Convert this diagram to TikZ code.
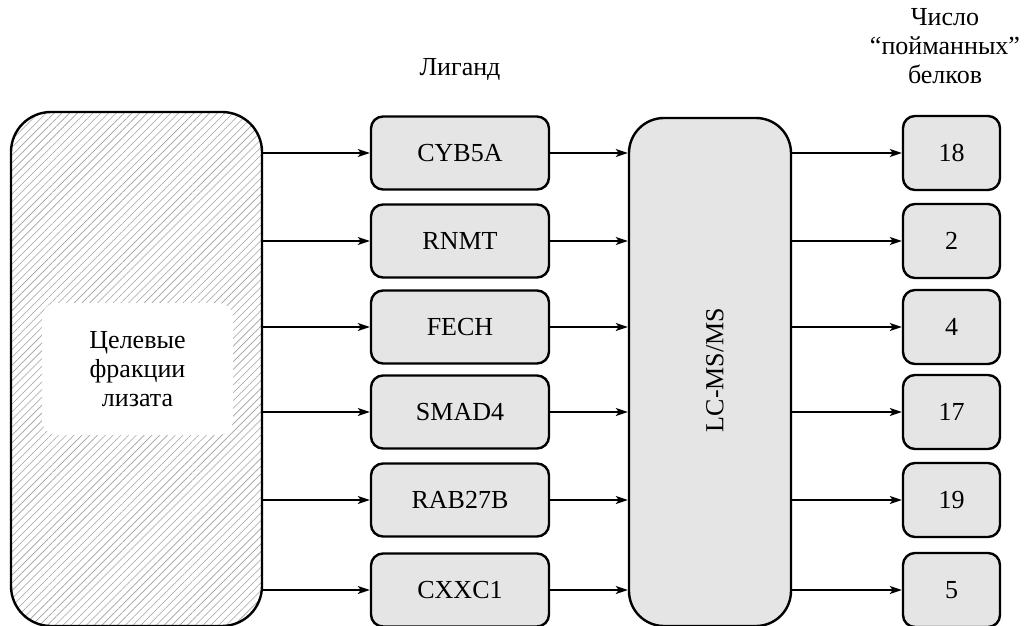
\documentclass[tikz,border=0pt]{standalone}
\usepackage{fontspec}
\setmainfont{Liberation Serif}
\usepackage{tikz}
\usetikzlibrary{arrows.meta,patterns.meta}

\definecolor{boxgray}{RGB}{229,229,229}
\tikzset{
	ligbox/.style={draw, line width=2.4pt, fill=boxgray, rounded corners=12pt, inner sep=0pt, minimum width=178pt, minimum height=73pt},
	numbox/.style={draw, line width=2.4pt, fill=boxgray, rounded corners=12pt, inner sep=0pt, minimum width=97pt, minimum height=74pt},
	arr/.style={line width=2pt, -{Stealth[length=12pt,width=8pt,inset=3pt]}},
	big/.style={font=\fontsize{26}{29}\selectfont}
}

\begin{document}
\begin{tikzpicture}[x=1pt, y=-1pt, big]
		\useasboundingbox (0, 0) rectangle (1029, 626);
		%% left box
		\node[draw, line width=2.4pt, rounded corners=40pt, minimum width=251pt, minimum height=514pt,
			pattern={Lines[angle=45, distance=5.5pt, line width=0.6pt]}, pattern color=gray!75] (lys) at (136.5, 369) {};
		\node[fill=white, rounded corners=15pt, minimum width=191pt, minimum height=132pt, align=center, inner sep=0pt] (lystxt) at (137.5, 369) {Целевые\\фракции\\лизата};
		%% headers
		\node (hlig) at (460, 70) {Лиганд};
		\node[align=center] (hnum) at (945, 46) {Число\\“пойманных”\\белков};
		%% ligands
		\node[ligbox] (cyb) at (460, 153) {CYB5A};
		\node[ligbox] (rnmt) at (460, 241) {RNMT};
		\node[ligbox] (fech) at (460, 327) {FECH};
		\node[ligbox] (smad) at (460, 412) {SMAD4};
		\node[ligbox] (rab) at (460, 500) {RAB27B};
		\node[ligbox] (cxxc) at (460, 590) {CXXC1};
		%% LC-MS/MS
		\node[draw, line width=2.4pt, fill=boxgray, rounded corners=35pt, minimum width=162pt, minimum height=508pt] (lcms) at (710, 372) {};
		\node[rotate=90] (lcmstxt) at (715, 370) {LC-MS/MS};
		%% counts
		\node[numbox] (n18) at (951.5, 153) {18};
		\node[numbox] (n2) at (951.5, 241) {2};
		\node[numbox] (n4) at (951.5, 327) {4};
		\node[numbox] (n17) at (951.5, 412) {17};
		\node[numbox] (n19) at (951.5, 500) {19};
		\node[numbox] (n5) at (951.5, 590) {5};
		%%
		\draw[arr] (lys.east |- cyb) -- (cyb);
		\draw[arr] (lys.east |- rnmt) -- (rnmt);
		\draw[arr] (lys.east |- fech) -- (fech);
		\draw[arr] (lys.east |- smad) -- (smad);
		\draw[arr] (lys.east |- rab) -- (rab);
		\draw[arr] (lys.east |- cxxc) -- (cxxc);
		%%
		\draw[arr] (cyb) -- (cyb -| lcms.west);
		\draw[arr] (rnmt) -- (rnmt -| lcms.west);
		\draw[arr] (fech) -- (fech -| lcms.west);
		\draw[arr] (smad) -- (smad -| lcms.west);
		\draw[arr] (rab) -- (rab -| lcms.west);
		\draw[arr] (cxxc) -- (cxxc -| lcms.west);
		%%
		\draw[arr] (lcms.east |- n18) -- (n18);
		\draw[arr] (lcms.east |- n2) -- (n2);
		\draw[arr] (lcms.east |- n4) -- (n4);
		\draw[arr] (lcms.east |- n17) -- (n17);
		\draw[arr] (lcms.east |- n19) -- (n19);
		\draw[arr] (lcms.east |- n5) -- (n5);
	\end{tikzpicture}
\end{document}
